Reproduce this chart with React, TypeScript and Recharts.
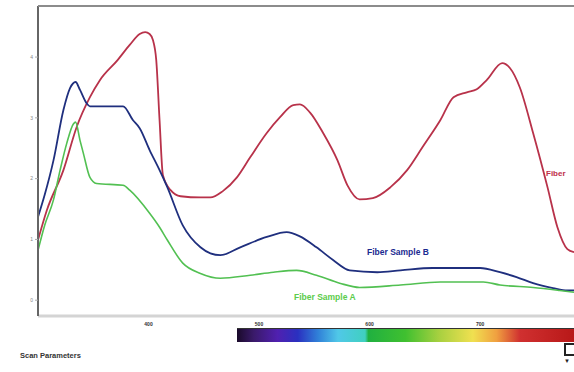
import { LineChart, Line, XAxis, YAxis } from "recharts";

// wavelength (nm) and absorbance
const fiberWl = [300, 308, 323, 335, 347, 356, 372, 383, 392, 397, 401, 404, 407, 410, 413, 420, 429, 447, 456, 467, 480, 492, 507, 519, 531, 537, 546, 558, 571, 580, 591, 603, 619, 634, 648, 664, 676, 688, 697, 706, 720, 727, 736, 748, 761, 770, 779, 785];
const fiberVal = [0.99, 1.48, 2.14, 2.85, 3.34, 3.62, 3.95, 4.2, 4.38, 4.41, 4.38, 4.28, 3.95, 2.96, 2.06, 1.81, 1.71, 1.69, 1.69, 1.79, 2.02, 2.35, 2.75, 3.01, 3.21, 3.22, 3.09, 2.75, 2.3, 1.89, 1.66, 1.68, 1.86, 2.14, 2.52, 2.96, 3.34, 3.42, 3.47, 3.62, 3.9, 3.82, 3.5, 2.75, 1.86, 1.2, 0.84, 0.79];

const sampleBWl = [300, 306, 314, 323, 329, 334, 338, 344, 347, 377, 386, 392, 401, 410, 417, 431, 447, 456, 465, 483, 507, 525, 537, 552, 567, 582, 607, 628, 657, 700, 718, 733, 748, 766, 779, 785];
const sampleBVal = [1.37, 1.73, 2.3, 3.13, 3.49, 3.59, 3.46, 3.24, 3.19, 3.19, 2.96, 2.83, 2.47, 2.14, 1.86, 1.23, 0.87, 0.77, 0.74, 0.87, 1.04, 1.12, 1.05, 0.87, 0.66, 0.49, 0.46, 0.49, 0.53, 0.53, 0.46, 0.38, 0.28, 0.2, 0.16, 0.16];

const sampleAWl = [300, 306, 314, 320, 326, 332, 334, 338, 341, 347, 353, 377, 383, 401, 410, 417, 431, 447, 465, 492, 513, 534, 552, 573, 591, 628, 664, 703, 718, 748, 772, 785];
const sampleAVal = [0.82, 1.23, 1.65, 2.14, 2.58, 2.9, 2.93, 2.63, 2.42, 2.02, 1.92, 1.89, 1.81, 1.43, 1.2, 0.99, 0.61, 0.44, 0.36, 0.41, 0.46, 0.49, 0.41, 0.28, 0.21, 0.25, 0.3, 0.3, 0.25, 0.21, 0.16, 0.13];

const xTicks = [400, 500, 600, 700];
const yTicks = [0, 1, 2, 3, 4];

const toRows = (wl: number[], val: number[]) => wl.map((w, i) => ({ wl: w, v: val[i] }));

const fiber = toRows(fiberWl, fiberVal);
const sampleB = toRows(sampleBWl, sampleBVal);
const sampleA = toRows(sampleAWl, sampleAVal);

const font = "Arial, 'Liberation Sans', sans-serif";

export default function App() {
  return (
    <div
      style={{
        position: "fixed",
        left: 0,
        top: 0,
        width: 574,
        height: 372,
        overflow: "hidden",
        background: "#fff",
        fontFamily: font,
      }}
    >
      <LineChart
        width={574}
        height={372}
        margin={{ top: 6, right: 0, left: 0, bottom: 36 }}
      >
        <XAxis
          type="number"
          dataKey="wl"
          domain={[300, 785]}
          ticks={xTicks}
          height={20}
          allowDataOverflow
          axisLine={{ stroke: "#d4d4d4", strokeWidth: 3 }}
          tickLine={false}
          tick={{ fontSize: 5, fill: "#333", fontWeight: 700 }}
          tickMargin={0}
        />
        <YAxis
          type="number"
          domain={[-0.26, 4.84]}
          ticks={yTicks}
          width={38}
          allowDataOverflow
          axisLine={{ stroke: "#666", strokeWidth: 2 }}
          tickLine={{ stroke: "#aaa" }}
          tickSize={3}
          tick={{ fontSize: 5, fill: "#888" }}
        />
        <Line
          data={fiber}
          dataKey="v"
          type="monotone"
          stroke="#b8324a"
          strokeWidth={1.8}
          dot={false}
          isAnimationActive={false}
        />
        <Line
          data={sampleB}
          dataKey="v"
          type="monotone"
          stroke="#1f2f7e"
          strokeWidth={1.8}
          dot={false}
          isAnimationActive={false}
        />
        <Line
          data={sampleA}
          dataKey="v"
          type="monotone"
          stroke="#52c052"
          strokeWidth={1.6}
          dot={false}
          isAnimationActive={false}
        />
      </LineChart>

      {/* top frame line */}
      <div style={{ position: "absolute", left: 38, top: 5, width: 536, height: 2, background: "#8c8c8c" }} />

      {/* series labels */}
      <div style={{ position: "absolute", left: 546, top: 169, fontSize: 8, fontWeight: 700, color: "#c0304a" }}>
        Fiber
      </div>
      <div style={{ position: "absolute", left: 367, top: 247, fontSize: 8.5, fontWeight: 700, color: "#1a2a90" }}>
        Fiber Sample B
      </div>
      <div style={{ position: "absolute", left: 294, top: 292, fontSize: 8.5, fontWeight: 700, color: "#5ccc4c" }}>
        Fiber Sample A
      </div>

      {/* spectrum bar */}
      <div
        style={{
          position: "absolute",
          left: 237,
          top: 328,
          width: 337,
          height: 13,
          borderTop: "1px solid #333",
          background:
            "linear-gradient(to right, #1a0a2a 0%, #3a1a6a 5%, #5020b0 12%, #2a30c0 18%, #3080d8 24%, #50c8e8 30%, #40d0c0 38%, #20b040 39%, #40c030 50%, #a8d040 60%, #f0e050 70%, #f0a040 77%, #d03030 84%, #b81818 100%)",
        }}
      />

      <div style={{ position: "absolute", left: 20, top: 351, fontSize: 7.5, fontWeight: 700, color: "#333" }}>
        Scan Parameters
      </div>

      {/* small icon bottom right */}
      <div style={{ position: "absolute", left: 564, top: 343, width: 12, height: 13, border: "2px solid #222", boxSizing: "border-box" }} />
      <div style={{ position: "absolute", left: 564, top: 358, fontSize: 6, color: "#222" }}>▼</div>
    </div>
  );
}
